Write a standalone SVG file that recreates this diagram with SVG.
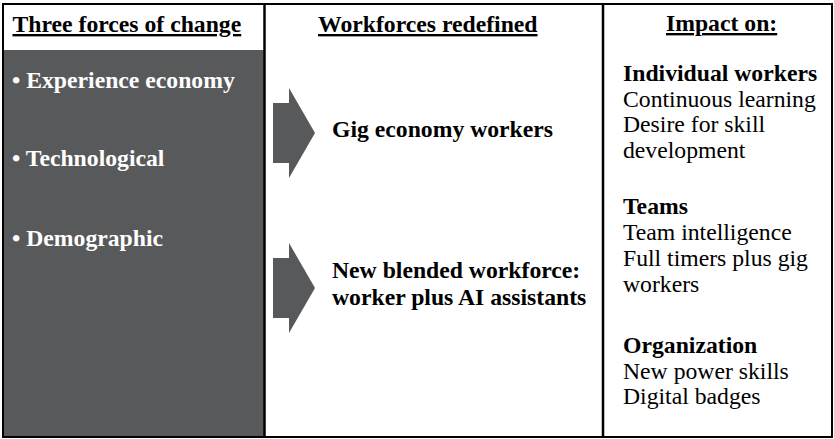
<svg xmlns="http://www.w3.org/2000/svg" width="834" height="439" viewBox="0 0 834 439">
  <style>
    text { font-family: "Liberation Serif", "Times New Roman", serif; font-size: 23.7px; fill: #000; }
    .b { font-weight: bold; }
    .hdr { font-weight: bold; text-decoration: underline; }
    .light { fill: #ffffff; font-weight: bold; }
    .panel { fill: #58595b; }
    .frame { fill: none; stroke: #000; stroke-width: 2; }
    .rule { stroke: #000; stroke-width: 2.5; }
  </style>
  <defs>
    <!-- block arrow pointing right, drawn from its left edge -->
    <polygon id="blockArrow" points="0,15 16,15 16,0 42,45 16,90 16,75 0,75" class="panel"/>
  </defs>

  <rect width="834" height="439" fill="#ffffff"/>

  <!-- column 1: forces of change -->
  <g id="forces">
    <rect class="panel" x="3" y="50" width="262" height="387"/>
    <text class="hdr" x="12.5" y="32">Three forces of change</text>
    <text class="light" x="12" y="88">• Experience economy</text>
    <text class="light" x="12" y="166">• Technological</text>
    <text class="light" x="12" y="246">• Demographic</text>
  </g>

  <!-- column 2: workforces redefined -->
  <g id="workforces">
    <text class="hdr" x="318" y="32">Workforces redefined</text>
  </g>
  <g id="gig-workers">
    <text class="b" x="332" y="137">Gig economy workers</text>
  </g>
  <g id="blended-workforce">
    <text class="b" x="332" y="278">New blended workforce:</text>
    <text class="b" x="332" y="305">worker plus AI assistants</text>
  </g>

  <!-- column 3: impact -->
  <g id="impact">
    <text class="hdr" x="666" y="31">Impact on:</text>
    <text class="b" x="623" y="81">Individual workers</text>
    <text x="623" y="106.5">Continuous learning</text>
    <text x="623" y="132">Desire for skill</text>
    <text x="623" y="157.5">development</text>
    <text class="b" x="623" y="214">Teams</text>
    <text x="623" y="240">Team intelligence</text>
    <text x="623" y="266">Full timers plus gig</text>
    <text x="623" y="292">workers</text>
    <text class="b" x="623" y="353">Organization</text>
    <text x="623" y="379">New power skills</text>
    <text x="623" y="404">Digital badges</text>
  </g>

  <!-- connectors: block arrows from forces to workforces -->
  <g id="connectors">
    <use href="#blockArrow" x="273" y="88"/>
    <use href="#blockArrow" x="273" y="243"/>
  </g>

  <!-- table frame -->
  <g id="frame">
    <rect class="frame" x="3" y="4" width="829" height="433"/>
    <line class="rule" x1="264.5" y1="4" x2="264.5" y2="437"/>
    <line class="rule" x1="603" y1="4" x2="603" y2="437"/>
  </g>
</svg>
